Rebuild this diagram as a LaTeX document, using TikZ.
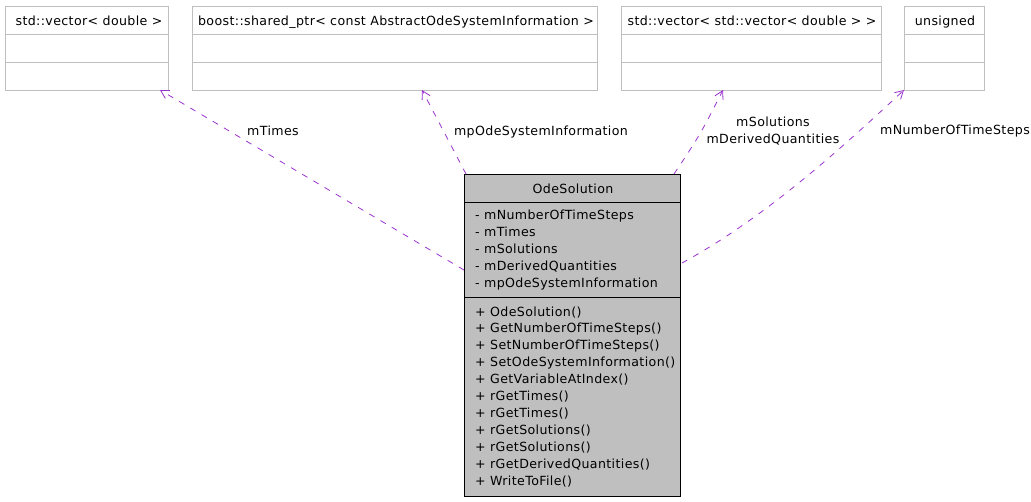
\documentclass[tikz,border=0pt]{standalone}
\usepackage{fontspec}
\setmainfont{DejaVu Sans}[LetterSpace=3]
\usetikzlibrary{arrows.meta}
\definecolor{boxgray}{RGB}{191,191,191}
\definecolor{edgepurple}{RGB}{154,50,205}
\begin{document}
\begin{tikzpicture}[x=1pt,y=-1pt,
  every node/.style={font=\fontsize{12.6}{17}\selectfont, inner sep=0pt},
  tbox/.style={draw=boxgray, line width=0.9pt, rectangle, anchor=north west},
  mbox/.style={draw=black, fill=boxgray, line width=0.9pt, rectangle, anchor=north west},
  gline/.style={draw=boxgray, line width=0.9pt},
  bline/.style={draw=black, line width=0.9pt},
  txt/.style={anchor=base},
  ltxt/.style={anchor=base west},
  dep/.style={draw=edgepurple, line width=0.8pt, dash pattern=on 6pt off 7pt,
     -{Straight Barb[length=8pt,width=9pt,line width=0.8pt]}}
]
\useasboundingbox (0,0) rectangle (1031,501);

% top boxes
\node[tbox, minimum width=163pt, minimum height=84pt] (b1) at (5,6) {};
\draw[gline] (5,34) -- (168,34) (5,62) -- (168,62);
\node[txt] (b1t) at (89,25) {std::vector< double >};

\node[tbox, minimum width=405pt, minimum height=84pt] (b2) at (192,6) {};
\draw[gline] (192,34) -- (597,34) (192,62) -- (597,62);
\node[txt] (b2t) at (396,25) {boost::shared\_ptr< const AbstractOdeSystemInformation >};

\node[tbox, minimum width=260pt, minimum height=84pt] (b3) at (621,6) {};
\draw[gline] (621,34) -- (881,34) (621,62) -- (881,62);
\node[txt] (b3t) at (752,25) {std::vector< std::vector< double > >};

\node[tbox, minimum width=80pt, minimum height=84pt] (b4) at (904,6) {};
\draw[gline] (904,34) -- (984,34) (904,62) -- (984,62);
\node[txt] (b4t) at (945,25) {unsigned};

% main box
\node[mbox, minimum width=216pt, minimum height=322pt] (m) at (464,174) {};
\draw[bline] (464,202) -- (680,202) (464,297) -- (680,297);
\node[txt] (mt) at (573,193) {OdeSolution};

\foreach \t [count=\i from 0] in {mNumberOfTimeSteps,mTimes,mSolutions,mDerivedQuantities,mpOdeSystemInformation}
  \node[ltxt] (a\i) at (475,219.5+17.1*\i) {- \t};

\foreach \t [count=\i from 0] in {OdeSolution(),GetNumberOfTimeSteps(),SetNumberOfTimeSteps(),SetOdeSystemInformation(),GetVariableAtIndex(),rGetTimes(),rGetTimes(),rGetSolutions(),rGetSolutions(),rGetDerivedQuantities(),WriteToFile()}
  \node[ltxt] (f\i) at (475,316+16.9*\i) {+ \t};

% connector endpoints
\coordinate (s1) at (464,270);
\coordinate (e1) at (160,90);
\coordinate (s2) at (466,174);
\coordinate (e2) at (422,90);
\coordinate (s3) at (674,174);
\coordinate (e3) at (723,90);
\coordinate (s4) at (682,263);
\coordinate (e4) at (904,90);

\draw[dep] (s1) -- (e1);
\draw[dep] (s2) -- (e2);
\draw[dep] (s3) .. controls (700,135) .. (e3);
\draw[dep] (s4) .. controls (770,215) and (850,140) .. (e4);

% labels
\node[txt] (l1) at (273,135) {mTimes};
\node[txt] (l2) at (541,135) {mpOdeSystemInformation};
\node[txt] (l3a) at (773,126.5) {mSolutions};
\node[txt] (l3b) at (773,143.5) {mDerivedQuantities};
\node[txt] (l4) at (955,134.5) {mNumberOfTimeSteps};
\end{tikzpicture}
\end{document}
